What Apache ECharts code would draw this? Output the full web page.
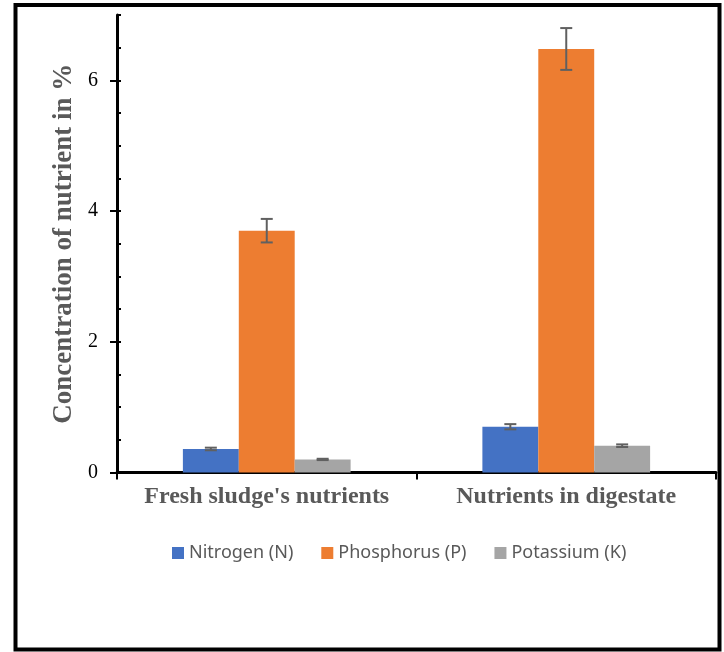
<!DOCTYPE html>
<html>
<head>
<meta charset="utf-8">
<script src="https://cdn.jsdelivr.net/npm/echarts@6/dist/echarts.min.js"></script>
<style>
html,body{margin:0;padding:0;background:#fff;}
#chart{width:724px;height:652px;}
</style>
</head>
<body>
<div id="chart"></div>
<script>
var categories = ["Fresh sludge's nutrients", "Nutrients in digestate"];
var seriesNames = ["Nitrogen (N)", "Phosphorus (P)", "Potassium (K)"];
var nitrogen = [0.36, 0.70];
var phosphorus = [3.70, 6.48];
var potassium = [0.20, 0.41];
var nitrogenErr = [0.02, 0.04];
var phosphorusErr = [0.18, 0.32];
var potassiumErr = [0.01, 0.02];
var yTickLabels = [0, 2, 4, 6];
var yMax = 7;
var yMinorStep = 0.5;
var yAxisTitle = "Concentration of nutrient in %";

var colors = ['#4472C4', '#ED7D31', '#A5A5A5'];
var values = [nitrogen, phosphorus, potassium];
var errs = [nitrogenErr, phosphorusErr, potassiumErr];
var catGap = 0.44;

var chart = echarts.init(document.getElementById('chart'), null, {renderer: 'canvas'});

function errorSeries(idx) {
  var data = categories.map(function (c, i) { return [i, values[idx][i], errs[idx][i]]; });
  return {
    type: 'custom',
    name: seriesNames[idx] + ' error',
    xAxisIndex: 0,
    yAxisIndex: 0,
    data: data,
    z: 10,
    silent: true,
    renderItem: function (params, api) {
      var ci = api.value(0), v = api.value(1), e = api.value(2);
      var band = api.size([1, 0])[0];
      var bw = band * (1 - catGap) / 3;
      var center = api.coord([ci, v]);
      var x = center[0] + (idx - 1) * bw;
      var top = api.coord([ci, v + e])[1];
      var bot = api.coord([ci, v - e])[1];
      var cap = 6;
      var st = {stroke: '#606060', lineWidth: 2};
      return {
        type: 'group',
        children: [
          {type: 'line', shape: {x1: x, y1: top, x2: x, y2: bot}, style: st},
          {type: 'line', shape: {x1: x - cap, y1: top, x2: x + cap, y2: top}, style: st},
          {type: 'line', shape: {x1: x - cap, y1: bot, x2: x + cap, y2: bot}, style: st}
        ]
      };
    }
  };
}

var barSeries = seriesNames.map(function (n, idx) {
  return {
    type: 'bar',
    name: n,
    data: values[idx],
    itemStyle: {color: colors[idx]},
    barGap: '0%',
    barCategoryGap: (catGap * 100) + '%',
    xAxisIndex: 0,
    yAxisIndex: 0
  };
});

var option = {
  animation: false,
  backgroundColor: '#ffffff',
  grid: {left: 117, right: 8, top: 15, bottom: 179.5, containLabel: false},
  legend: {
    data: seriesNames,
    left: 167,
    top: 539,
    itemWidth: 12,
    itemHeight: 12,
    itemGap: 28,
    icon: 'rect',
    textStyle: {fontFamily: 'Noto Sans', fontSize: 18, color: '#595959'}
  },
  xAxis: [{
    type: 'category',
    data: categories,
    axisLine: {lineStyle: {color: '#000', width: 3}},
    axisTick: {show: true, length: 7, lineStyle: {color: '#000', width: 2}},
    axisLabel: {
      interval: 0,
      margin: 12,
      fontFamily: 'Liberation Serif',
      fontWeight: 'bold',
      fontSize: 24,
      color: '#595959'
    },
    splitLine: {show: false}
  }],
  yAxis: [{
    type: 'value',
    min: 0,
    max: yMax,
    interval: 2,
    position: 'left',
    name: yAxisTitle,
    nameLocation: 'middle',
    nameRotate: 90,
    nameGap: 36,
    nameTextStyle: {fontFamily: 'Liberation Serif', fontWeight: 'bold', fontSize: 27, color: '#595959'},
    axisLine: {show: true, lineStyle: {color: '#000', width: 3}},
    axisTick: {show: true, length: 7, customValues: yTickLabels, lineStyle: {color: '#000', width: 2}},
    axisLabel: {
      margin: 19,
      customValues: yTickLabels,
      fontFamily: 'Liberation Serif',
      fontSize: 20,
      color: '#000',
      formatter: function (v) { return yTickLabels.indexOf(v) >= 0 ? String(v) : ''; }
    },
    splitLine: {show: false}
  }, {
    type: 'value',
    min: 0,
    max: yMax,
    interval: yMinorStep,
    position: 'left',
    offset: 0,
    axisLine: {show: false},
    axisTick: {show: true, inside: true, length: 4, lineStyle: {color: '#000', width: 2}},
    axisLabel: {show: false},
    splitLine: {show: false}
  }],
  series: barSeries.concat([errorSeries(0), errorSeries(1), errorSeries(2)]),
  graphic: [{
    type: 'rect',
    shape: {x: 15.5, y: 5, width: 704, height: 644.5},
    style: {fill: 'none', stroke: '#000', lineWidth: 4},
    silent: true
  }]
};
chart.setOption(option);
</script>
</body>
</html>
